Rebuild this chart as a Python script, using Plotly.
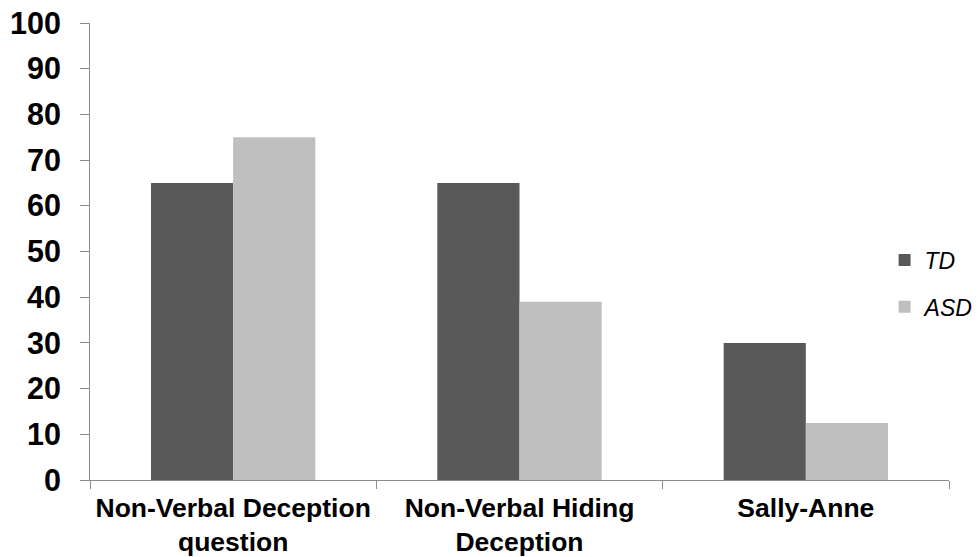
import plotly.graph_objects as go

# Task categories and percentage scores per group
categories = ["Non-Verbal Deception<br>question", "Non-Verbal Hiding<br>Deception", "Sally-Anne"]
td_values = [65, 65, 30]
asd_values = [75, 39, 12.5]
y_ticks = list(range(0, 101, 10))

FONT = "Liberation Sans, Arial, sans-serif"
AXIS_GREY = "#8c8c8c"

fig = go.Figure()
fig.add_trace(go.Bar(
    name="TD", x=categories, y=td_values,
    marker=dict(color="#595959", line=dict(width=0)),
    legendgroup="td",
))
fig.add_trace(go.Bar(
    name="ASD", x=categories, y=asd_values,
    marker=dict(color="#bfbfbf", line=dict(width=0)),
    legendgroup="asd",
))

fig.update_layout(
    width=980, height=557,
    margin=dict(l=90, r=31, t=23, b=77, autoexpand=False),
    paper_bgcolor="white", plot_bgcolor="white",
    barmode="group", bargap=0.426, bargroupgap=0,
    showlegend=True,
    legend=dict(
        x=0.925, y=0.43, xanchor="left", yanchor="middle",
        font=dict(family=FONT, size=23, color="black", style="italic"),
        tracegroupgap=14, traceorder="grouped",
        bgcolor="rgba(0,0,0,0)", itemwidth=30,
    ),
    xaxis=dict(
        showline=True, linecolor=AXIS_GREY, linewidth=1,
        ticks="outside", tickson="boundaries", ticklen=8, tickcolor=AXIS_GREY,
        tickangle=0, automargin=False, ticklabelstandoff=4,
        tickfont=dict(family=FONT, size=26.5, color="black", weight="bold"),
        showgrid=False, zeroline=False,
    ),
    yaxis=dict(
        range=[0, 100], tickvals=y_ticks,
        showline=True, linecolor=AXIS_GREY, linewidth=1,
        ticks="outside", ticklen=9, tickcolor=AXIS_GREY,
        automargin=False,
        tickfont=dict(family=FONT, size=30.5, color="black", weight="bold"),
        ticklabelstandoff=13,
        showgrid=False, zeroline=False,
    ),
)

fig.write_html("out.html")
